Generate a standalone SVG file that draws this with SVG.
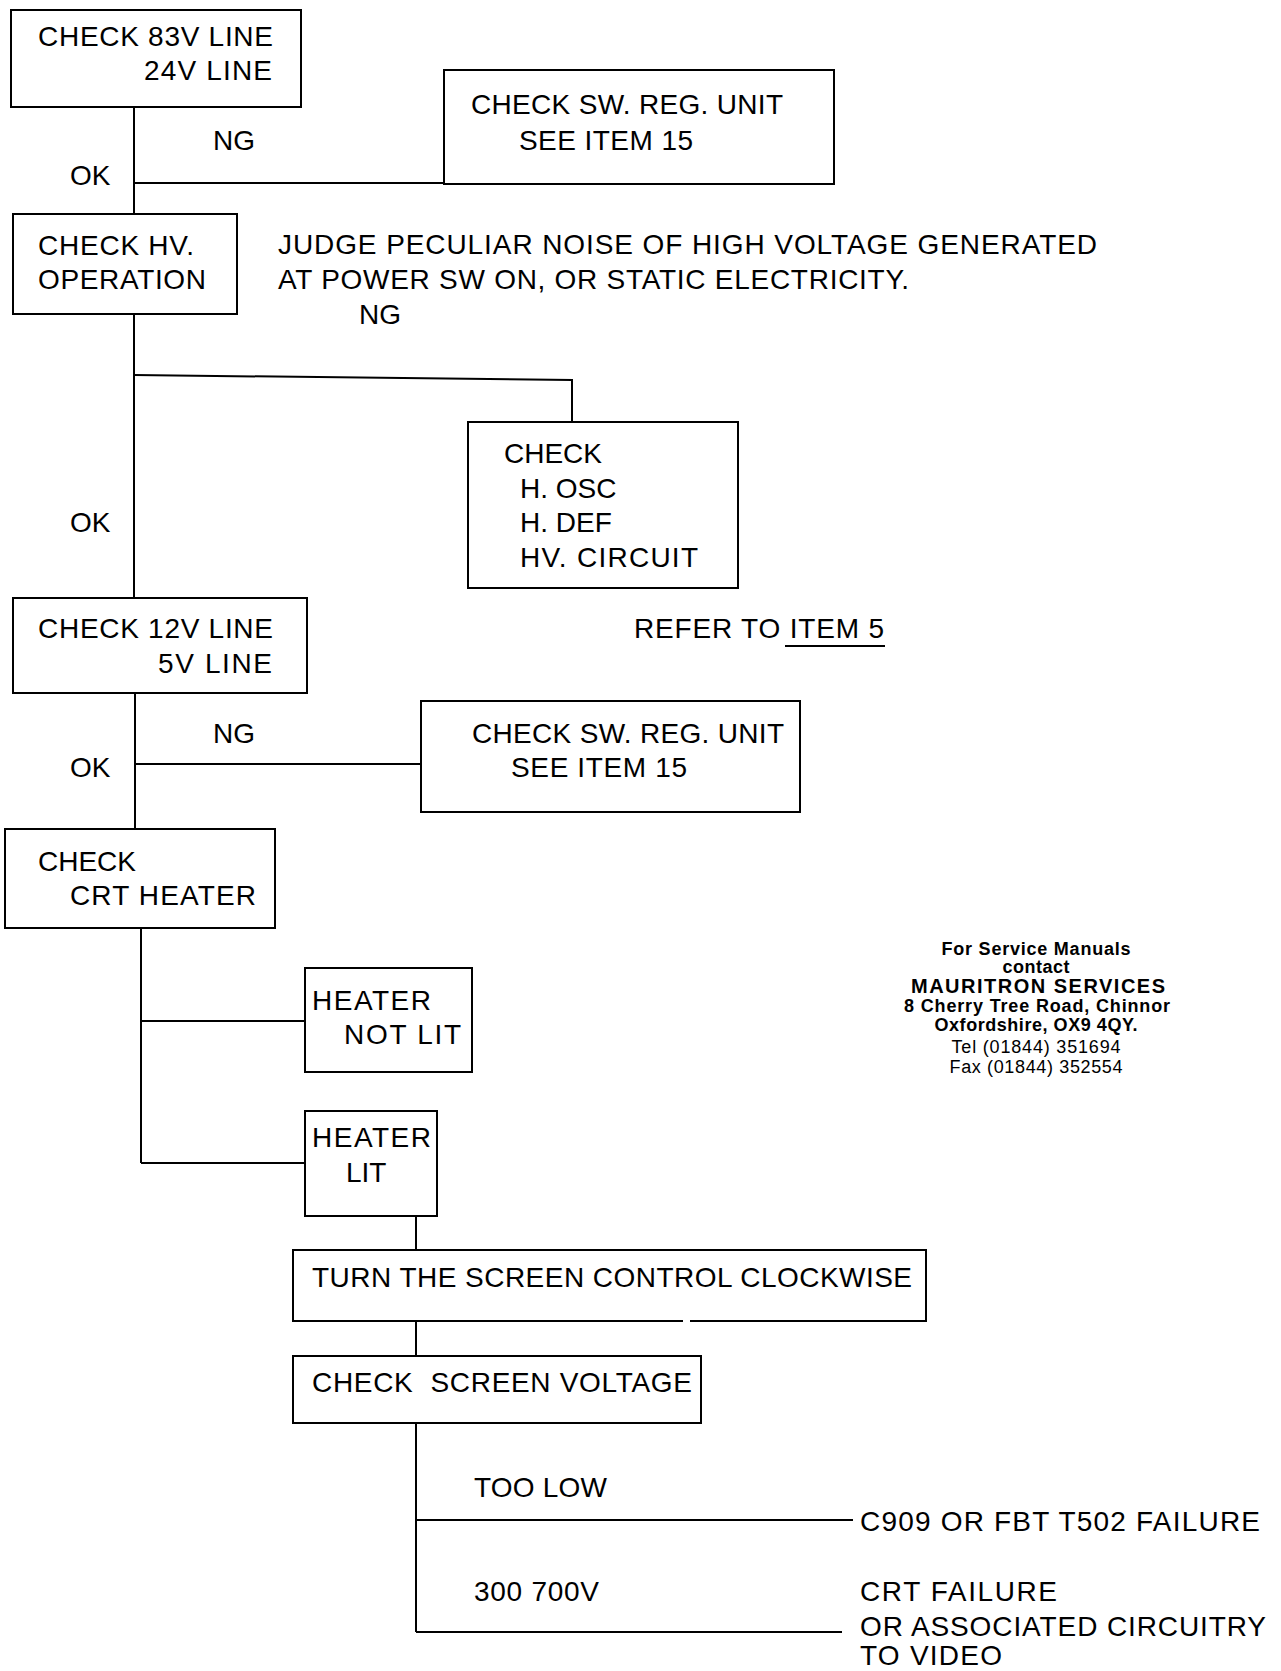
<svg xmlns="http://www.w3.org/2000/svg" width="1281" height="1671" viewBox="0 0 1281 1671">
<style>
  .box { fill: none; stroke: #000; stroke-width: 2; }
  .ln { fill: none; stroke: #000; stroke-width: 2; }
  text { font-family: "Liberation Sans", Arial, sans-serif; fill: #000; }
  .t { font-size: 28px; }
  .c { font-size: 18px; font-weight: bold; text-anchor: middle; }
  .cr { font-size: 18px; text-anchor: middle; }
</style>
<rect width="1281" height="1671" fill="#fff"/>

<g id="connectors">
  <line class="ln" x1="134" y1="107" x2="134" y2="214"/>
  <line class="ln" x1="134" y1="183" x2="444" y2="183"/>
  <line class="ln" x1="134" y1="314" x2="134" y2="598"/>
  <polyline class="ln" points="134,375 572,380 572,422"/>
  <line class="ln" x1="135" y1="693" x2="135" y2="829"/>
  <line class="ln" x1="135" y1="764" x2="421" y2="764"/>
  <line class="ln" x1="141" y1="928" x2="141" y2="1163"/>
  <line class="ln" x1="141" y1="1021" x2="305" y2="1021"/>
  <line class="ln" x1="141" y1="1163" x2="305" y2="1163"/>
  <line class="ln" x1="416" y1="1216" x2="416" y2="1250"/>
  <line class="ln" x1="416" y1="1321" x2="416" y2="1356"/>
  <line class="ln" x1="416" y1="1423" x2="416" y2="1632"/>
  <line class="ln" x1="416" y1="1520" x2="853" y2="1520"/>
  <line class="ln" x1="416" y1="1632" x2="842" y2="1632"/>
  <text class="t" x="213" y="150">NG</text>
  <text class="t" x="70" y="185">OK</text>
  <text class="t" x="359" y="324">NG</text>
  <text class="t" x="70" y="532">OK</text>
  <text class="t" x="213" y="743">NG</text>
  <text class="t" x="70" y="777">OK</text>
  <text class="t" x="474" y="1497" textLength="133">TOO LOW</text>
  <text class="t" x="474" y="1601" textLength="125">300 700V</text>
</g>

<g id="n-check-83v">
  <rect class="box" x="11" y="10" width="290" height="97"/>
  <text class="t" x="38" y="46" textLength="235">CHECK 83V LINE</text>
  <text class="t" x="144" y="80" textLength="128">24V LINE</text>
</g>

<g id="n-swreg-1">
  <rect class="box" x="444" y="70" width="390" height="114"/>
  <text class="t" x="471" y="114" textLength="312">CHECK SW. REG. UNIT</text>
  <text class="t" x="519" y="150" textLength="174">SEE ITEM 15</text>
</g>

<g id="n-check-hv">
  <rect class="box" x="13" y="214" width="224" height="100"/>
  <text class="t" x="38" y="255" textLength="156">CHECK HV.</text>
  <text class="t" x="38" y="289" textLength="168">OPERATION</text>
</g>

<g id="n-judge-note">
  <text class="t" x="278" y="254" textLength="819">JUDGE PECULIAR NOISE OF HIGH VOLTAGE GENERATED</text>
  <text class="t" x="278" y="289" textLength="631">AT POWER SW ON, OR STATIC ELECTRICITY.</text>
</g>

<g id="n-check-hosc">
  <rect class="box" x="468" y="422" width="270" height="166"/>
  <text class="t" x="504" y="463">CHECK</text>
  <text class="t" x="520" y="498">H. OSC</text>
  <text class="t" x="520" y="532">H. DEF</text>
  <text class="t" x="520" y="567" textLength="178">HV. CIRCUIT</text>
</g>

<g id="n-refer">
  <text class="t" x="634" y="638" textLength="250">REFER TO ITEM 5</text>
  <line class="ln" x1="785" y1="646" x2="885" y2="646"/>
</g>

<g id="n-check-12v">
  <rect class="box" x="13" y="598" width="294" height="95"/>
  <text class="t" x="38" y="638" textLength="235">CHECK 12V LINE</text>
  <text class="t" x="158" y="673" textLength="114">5V LINE</text>
</g>

<g id="n-swreg-2">
  <rect class="box" x="421" y="701" width="379" height="111"/>
  <text class="t" x="472" y="743" textLength="312">CHECK SW. REG. UNIT</text>
  <text class="t" x="511" y="777" textLength="176">SEE ITEM 15</text>
</g>

<g id="n-check-crt">
  <rect class="box" x="5" y="829" width="270" height="99"/>
  <text class="t" x="38" y="871">CHECK</text>
  <text class="t" x="70" y="905" textLength="186">CRT HEATER</text>
</g>

<g id="n-heater-not-lit">
  <rect class="box" x="305" y="968" width="167" height="104"/>
  <text class="t" x="312" y="1010" textLength="119">HEATER</text>
  <text class="t" x="344" y="1044" textLength="117">NOT LIT</text>
</g>

<g id="n-heater-lit">
  <rect class="box" x="305" y="1111" width="132" height="105"/>
  <text class="t" x="312" y="1147" textLength="119">HEATER</text>
  <text class="t" x="346" y="1182">LIT</text>
</g>

<g id="n-turn-screen">
  <rect class="box" x="293" y="1250" width="633" height="71"/>
  <line x1="683" y1="1321" x2="690" y2="1321" stroke="#fff" stroke-width="3"/>
  <text class="t" x="312" y="1287" textLength="600">TURN THE SCREEN CONTROL CLOCKWISE</text>
</g>

<g id="n-check-screen">
  <rect class="box" x="293" y="1356" width="408" height="67"/>
  <text class="t" x="312" y="1392" textLength="380" style="white-space:pre">CHECK  SCREEN VOLTAGE</text>
</g>

<g id="n-c909">
  <text class="t" x="860" y="1531" textLength="400">C909 OR FBT T502 FAILURE</text>
</g>

<g id="n-crt-failure">
  <text class="t" x="860" y="1601" textLength="197">CRT FAILURE</text>
  <text class="t" x="860" y="1636" textLength="406">OR ASSOCIATED CIRCUITRY</text>
  <text class="t" x="860" y="1665" textLength="142">TO VIDEO</text>
</g>

<g id="n-contact">
  <text class="c" x="1036" y="955" textLength="189">For Service Manuals</text>
  <text class="c" x="1036" y="973" textLength="67">contact</text>
  <text class="c" x="1038" y="993" style="font-size:20px" textLength="254">MAURITRON SERVICES</text>
  <text class="c" x="1037" y="1012" textLength="266">8 Cherry Tree Road, Chinnor</text>
  <text class="c" x="1036" y="1031" textLength="203">Oxfordshire, OX9 4QY.</text>
  <text class="cr" x="1036" y="1053" textLength="169">Tel (01844) 351694</text>
  <text class="cr" x="1036" y="1073" textLength="173">Fax (01844) 352554</text>
</g>
</svg>
